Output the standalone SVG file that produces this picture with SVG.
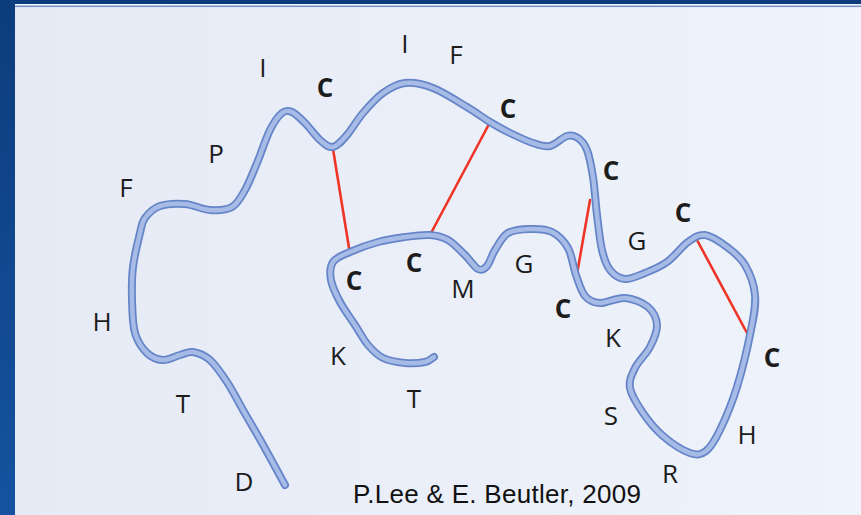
<svg xmlns="http://www.w3.org/2000/svg" width="861" height="515" viewBox="0 0 861 515">
  <defs>
    <linearGradient id="panelFill" x1="0" y1="0" x2="1" y2="0">
      <stop offset="0" stop-color="#e5eaf5"/>
      <stop offset="1" stop-color="#eff3fb"/>
    </linearGradient>
    <linearGradient id="frameFill" x1="0" y1="0" x2="0" y2="1">
      <stop offset="0" stop-color="#0c3c7c"/>
      <stop offset="1" stop-color="#1553a0"/>
    </linearGradient>
    <!-- centre line of the peptide chain, stroked twice for the tube look -->
    <path id="chainPath" d="M285,485 S269,455.5 262,443 S248.8,420.2 243,410 S232.5,390.3 227,382 S215.7,365 210,360 S198,352.8 193,352 S185,353.7 180,355 S168.5,360.3 163,360 S151.7,357.5 147,353 S137.5,341.8 135,333 S132.3,311 132,300 S131.7,278.2 133,267 S138,241.2 140,233 S141.7,222.5 145,218 S153.3,208.3 160,206 S176.7,203.3 185,204 S202.2,209.5 210,210 S226.2,210.3 232,207 S240.8,197.3 245,190 S252.8,173 257,163 S265.8,138.3 270,130 S278.3,116 282,113 S288.2,110.3 292,112 S300.3,118.3 305,123 S315.3,136 320,140 S328.5,147.8 333,147 S342,140.7 347,135 S357,120 363,113 S376,98 383,93 S396.7,83.8 405,83 S422.7,84 433,88 S457.5,101.3 467,107 S482.8,117.7 490,122 S502.8,129.5 510,133 S526.3,140.8 533,143 S544.3,147.2 550,146 S562.3,137.3 567,136 S574.7,135.7 578,138 S584.5,143.5 587,150 S591.3,166.2 593,177 S595.5,202.8 597,215 S599.8,240.8 602,250 S606.2,265.2 610,270 S619.2,278.5 625,279 S638,275.8 645,273 S659.8,267.2 667,262 S681.7,246.5 688,242 S698.5,234.2 705,235 S720.3,242 727,247 S740.3,257 745,265 S754,284.2 755,295 S754,314.7 751,330 S742.2,370.3 737,387 S725.2,419.3 720,430 S711,447.2 706,451 S697.2,455.5 690,453 S670.8,442.7 663,436 S648.5,421 643,413 S631.3,395.5 630,388 S631.7,374.8 635,368 S646.3,354.2 650,347 S657.3,331.7 657,325 S653.3,311.5 648,307 S633,298.7 625,298 S606.7,303.3 600,303 S589,300.7 585,296 S578.8,283 576,275 S572,255.2 568,248 S558.3,235.2 552,232 S537.3,228.8 530,229 S513.8,229.5 508,233 S498.5,244.5 495,250 S489.8,262.8 487,266 S481.7,270.8 478,269 S470,259.8 465,255 S453.8,243.3 448,240 S437.2,235.5 430,235 S413.7,235.8 405,237 S387.2,239.5 378,242 S357.5,248.7 350,252 S336.2,257.3 333,262 S329.8,273.3 331,280 S336,294.5 340,302 S350.3,317.8 355,325 S363.3,339.5 368,345 S376.8,355 383,358 S398,362.3 405,363 S420.2,363 425,362 S431,358.7 434,357"/>
  </defs>
  <style>
    .lbl { font-family: "Open Sans", "DejaVu Sans", sans-serif; font-size: 26px; fill: #1c1c1c; text-anchor: middle; }
    .cys { font-weight: bold; }
    .bond { stroke: #ee3527; stroke-width: 2.6; fill: none; stroke-linecap: round; }
    .tube-edge { stroke: #6685c8; stroke-width: 8; fill: none; stroke-linecap: round; stroke-linejoin: round; }
    .tube-core { stroke: #a6bbe5; stroke-width: 4.5; fill: none; stroke-linecap: round; stroke-linejoin: round; }
    .credit { font-family: "Liberation Sans", Arial, sans-serif; font-size: 26px; fill: #111111; }
  </style>

  <!-- frame and panel -->
  <rect x="0" y="0" width="861" height="515" fill="url(#frameFill)"/>
  <rect x="15" y="4" width="846" height="511" fill="#f3f6fc"/>
  <rect x="15" y="5.5" width="846" height="1.8" fill="#7a91c8"/>
  <rect x="15" y="7.3" width="846" height="508" fill="url(#panelFill)"/>

  <!-- disulfide bonds -->
  <g id="connectors">
    <line class="bond" x1="333" y1="149" x2="350" y2="254"/>
    <line class="bond" x1="488" y1="126" x2="430" y2="235"/>
    <line class="bond" x1="590" y1="200" x2="577" y2="274"/>
    <line class="bond" x1="697" y1="240" x2="747" y2="333"/>
  </g>

  <!-- peptide chain -->
  <g id="chain">
    <use href="#chainPath" class="tube-edge"/>
    <use href="#chainPath" class="tube-core"/>
  </g>

  <!-- residue labels -->
  <g id="residues">
    <text class="lbl" x="263" y="77">I</text>
    <text class="lbl cys" x="325" y="97">C</text>
    <text class="lbl" x="405" y="53">I</text>
    <text class="lbl" x="456" y="64">F</text>
    <text class="lbl cys" x="508" y="118">C</text>
    <text class="lbl" x="216" y="163">P</text>
    <text class="lbl" x="126" y="197">F</text>
    <text class="lbl cys" x="611" y="180">C</text>
    <text class="lbl cys" x="683" y="222">C</text>
    <text class="lbl" x="637" y="250">G</text>
    <text class="lbl cys" x="354" y="290">C</text>
    <text class="lbl cys" x="414" y="272">C</text>
    <text class="lbl" x="463" y="298">M</text>
    <text class="lbl" x="524" y="273">G</text>
    <text class="lbl cys" x="563" y="318">C</text>
    <text class="lbl" x="613" y="347">K</text>
    <text class="lbl" x="102" y="331">H</text>
    <text class="lbl" x="338" y="365">K</text>
    <text class="lbl" x="183" y="413">T</text>
    <text class="lbl" x="414" y="408">T</text>
    <text class="lbl" x="611" y="425">S</text>
    <text class="lbl cys" x="772" y="367">C</text>
    <text class="lbl" x="747" y="444">H</text>
    <text class="lbl" x="670" y="483">R</text>
    <text class="lbl" x="244" y="491">D</text>
  </g>

  <text class="credit" x="353" y="503" textLength="288" lengthAdjust="spacing">P.Lee &amp; E. Beutler, 2009</text>
</svg>
